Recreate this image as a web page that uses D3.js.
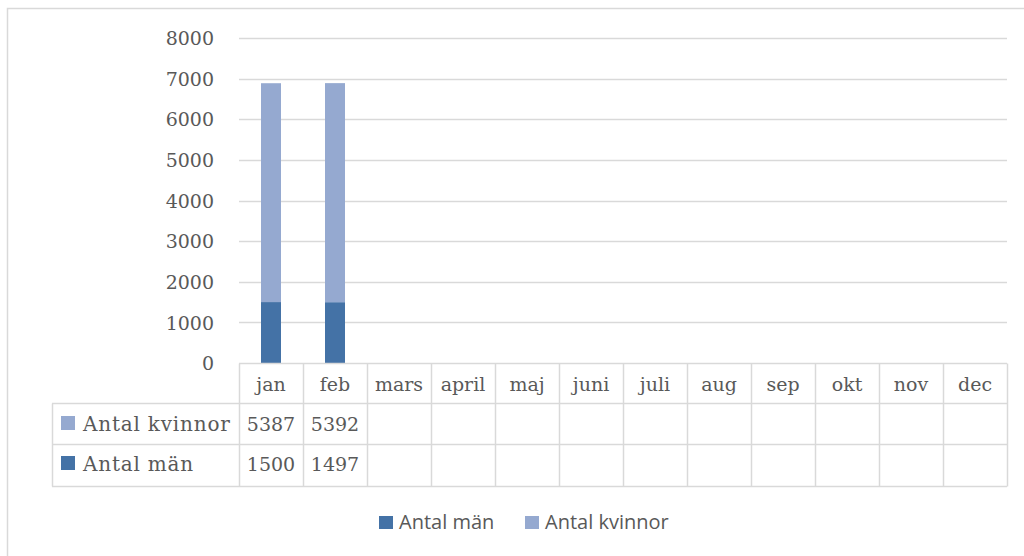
<!DOCTYPE html>
<html><head><meta charset="utf-8">
<script src="https://cdn.jsdelivr.net/npm/d3@7/dist/d3.min.js"></script>
<style>body{margin:0;background:#fff}svg{display:block}</style>
</head><body><svg id="c" width="1024" height="556"></svg>
<script>
const months = ["jan","feb","mars","april","maj","juni","juli","aug","sep","okt","nov","dec"];
const men = [1500,1497,null,null,null,null,null,null,null,null,null,null];
const women = [5387,5392,null,null,null,null,null,null,null,null,null,null];
const seriesNames = ["Antal män","Antal kvinnor"];
const colors = ["#4472A6","#95A9D0"];
const yTicks = [0,1000,2000,3000,4000,5000,6000,7000,8000];

const svg = d3.select("#c");
const serif = "'DejaVu Serif', serif";
const fs = 19;
const textCol = "#595959";
const grid = "#d9d9d9";

// chart frame
svg.append("rect").attr("x",7.5).attr("y",8.5).attr("width",1030).attr("height",560)
  .attr("fill","#fff").attr("stroke",grid).attr("stroke-width",1.5);

const x = d3.scaleBand().domain(months).range([239,1007]);
const y = d3.scaleLinear().domain([0,8000]).range([363,38]);

// gridlines
svg.append("g").selectAll("line").data(yTicks.slice(1)).join("line")
  .attr("x1",239).attr("x2",1007).attr("y1",d=>Math.round(y(d))+0.5).attr("y2",d=>Math.round(y(d))+0.5)
  .attr("stroke",grid).attr("stroke-width",1.3);

// y axis labels
const yAxis = d3.axisLeft(y).tickValues(yTicks).tickSize(0).tickPadding(0).tickFormat(d3.format("d"));
const ya = svg.append("g").attr("transform","translate(214,0)").call(yAxis);
ya.select(".domain").remove();
ya.selectAll("text").attr("font-family",serif).attr("font-size",fs).attr("fill",textCol).attr("dy","0.35em");

// bars
const data = months.map((m,i)=>({m, men:men[i]||0, women:women[i]||0}));
const stack = d3.stack().keys(["men","women"])(data);
const bw = 20;
svg.append("g").selectAll("g").data(stack).join("g").attr("fill",(d,i)=>colors[i])
  .selectAll("rect").data(d=>d.filter(p=>p[1]>p[0])).join("rect")
  .attr("x",d=>x(d.data.m)+x.bandwidth()/2-bw/2).attr("width",bw)
  .attr("y",d=>y(d[1])).attr("height",d=>y(d[0])-y(d[1]));

// data table
const rows = [363.5, 403.5, 444.5, 486.5];
const tbl = svg.append("g").attr("stroke",grid).attr("stroke-width",1.5).attr("fill","none");
tbl.append("line").attr("x1",239).attr("x2",1007).attr("y1",rows[0]).attr("y2",rows[0]);
[1,2,3].forEach(r=>tbl.append("line").attr("x1",52).attr("x2",1007).attr("y1",rows[r]).attr("y2",rows[r]));
tbl.append("line").attr("x1",52.5).attr("x2",52.5).attr("y1",rows[1]).attr("y2",rows[3]);
months.forEach(m=>{
  tbl.append("line").attr("x1",Math.round(x(m))+0.5).attr("x2",Math.round(x(m))+0.5).attr("y1",rows[0]).attr("y2",rows[3]);
});
tbl.append("line").attr("x1",1007.5).attr("x2",1007.5).attr("y1",rows[0]).attr("y2",rows[3]);

const tx = svg.append("g").attr("font-family",serif).attr("font-size",fs).attr("fill",textCol).attr("text-anchor","middle");
tx.selectAll(".mh").data(months).join("text").attr("x",d=>x(d)+x.bandwidth()/2).attr("y",391).text(d=>d);
const tableRows = [{name:seriesNames[1], vals:women, c:colors[1], yb:431},{name:seriesNames[0], vals:men, c:colors[0], yb:471}];
tableRows.forEach(r=>{
  svg.append("rect").attr("x",61).attr("y",r.yb-15).attr("width",14).attr("height",14).attr("fill",r.c);
  svg.append("text").attr("x",83).attr("y",r.yb).attr("font-family",serif).attr("font-size",20)
    .attr("letter-spacing",0.8).attr("fill",textCol).text(r.name);
  tx.selectAll(null).data(months.map((m,i)=>({m,v:r.vals[i]})).filter(d=>d.v!=null)).join("text")
    .attr("x",d=>x(d.m)+x.bandwidth()/2).attr("y",r.yb).text(d=>d.v);
});

// legend
const sans = "'Open Sans', Lato, sans-serif";
const leg = [{n:seriesNames[0],c:colors[0],x:379},{n:seriesNames[1],c:colors[1],x:525}];
leg.forEach(l=>{
  svg.append("rect").attr("x",l.x).attr("y",516).attr("width",14).attr("height",13).attr("fill",l.c);
  svg.append("text").attr("x",l.x+20).attr("y",529).attr("font-family",sans).attr("font-size",20).attr("fill",textCol).text(l.n);
});
</script></body></html>
